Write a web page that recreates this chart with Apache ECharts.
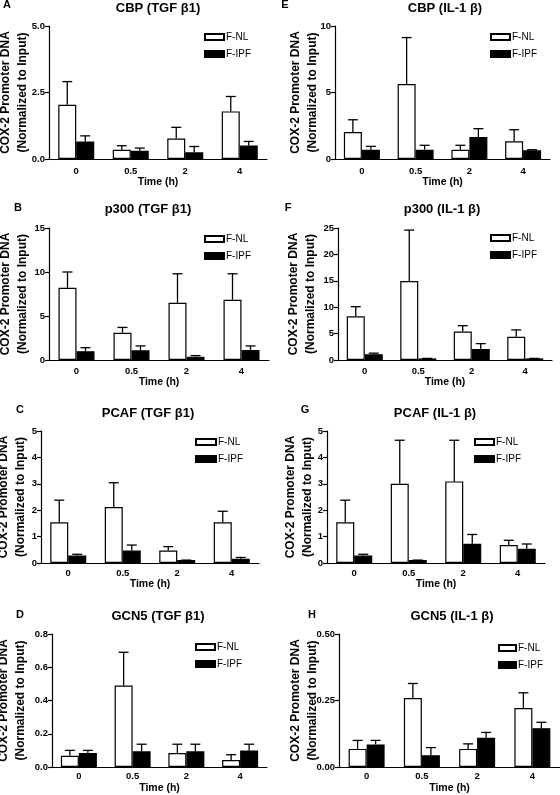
<!DOCTYPE html>
<html><head><meta charset="utf-8">
<script src="https://cdn.jsdelivr.net/npm/echarts@6/dist/echarts.min.js"></script>
<style>html,body{margin:0;padding:0;background:#fff}#c{width:560px;height:795px}</style>
</head><body><div id="c"></div>
<script>
const categories = ['0', '0.5', '2', '4'];
const seriesNames = ['F-NL', 'F-IPF'];
const yTitle = 'COX-2 Promoter DNA\n(Normalized to Input)';
const xTitle = 'Time (h)';

// A: CBP (TGFβ1)
const aNL = [2.04, 0.35, 0.77, 1.79];
const aNLTop = [2.91, 0.50, 1.19, 2.35];
const aIPF = [0.66, 0.31, 0.25, 0.51];
const aIPFTop = [0.87, 0.41, 0.47, 0.66];
const aTicks = [0, 5, 2.5];
// B: p300 (TGFβ1)
const bNL = [8.2, 3.1, 6.5, 6.85];
const bNLTop = [10.0, 3.7, 9.8, 9.8];
const bIPF = [1.0, 1.1, 0.38, 1.13];
const bIPFTop = [1.4, 1.6, 0.5, 1.6];
const bTicks = [0, 15, 5];
// C: PCAF (TGFβ1)
const cNL = [1.54, 2.12, 0.47, 1.54];
const cNLTop = [2.38, 3.04, 0.62, 1.96];
const cIPF = [0.28, 0.47, 0.11, 0.16];
const cIPFTop = [0.33, 0.68, 0.11, 0.21];
const cTicks = [0, 5, 1];
// D: GCN5 (TGFβ1)
const dNL = [0.068, 0.49, 0.084, 0.042];
const dNLTop = [0.10, 0.69, 0.137, 0.074];
const dIPF = [0.084, 0.094, 0.094, 0.10];
const dIPFTop = [0.10, 0.137, 0.137, 0.137];
const dTicks = [0, 0.8, 0.2];
// E: CBP (IL-1β)
const eNL = [2.03, 5.63, 0.70, 1.33];
const eNLTop = [2.95, 9.13, 1.03, 2.2];
const eIPF = [0.70, 0.70, 1.65, 0.65];
const eIPFTop = [0.95, 1.03, 2.28, 0.70];
const eTicks = [0, 10, 5];
// F: p300 (IL-1β)
const fNL = [8.27, 14.96, 5.4, 4.4];
const fNLTop = [10.1, 24.6, 6.5, 5.7];
const fIPF = [1.1, 0.3, 2.1, 0.3];
const fIPFTop = [1.3, 0.3, 3.1, 0.3];
const fTicks = [0, 25, 5];
// G: PCAF (IL-1β)
const gNL = [1.54, 3.0, 3.09, 0.68];
const gNLTop = [2.38, 4.65, 4.65, 0.86];
const gIPF = [0.28, 0.11, 0.73, 0.54];
const gIPFTop = [0.33, 0.11, 1.08, 0.72];
const gTicks = [0, 5, 1];
// H: GCN5 (IL-1β)
const hNL = [0.068, 0.259, 0.068, 0.222];
const hNLTop = [0.10, 0.314, 0.087, 0.279];
const hIPF = [0.085, 0.044, 0.11, 0.146];
const hIPFTop = [0.10, 0.073, 0.13, 0.168];
const hTicks = [0, 0.5, 0.25];

const panelTitles = ['CBP (TGF β1)', 'p300 (TGF β1)', 'PCAF (TGF β1)', 'GCN5 (TGF β1)',
                     'CBP (IL-1 β)', 'p300 (IL-1 β)', 'PCAF (IL-1 β)', 'GCN5 (IL-1 β)'];
const panelLetters = ['A', 'B', 'C', 'D', 'E', 'F', 'G', 'H'];

const panelData = [
  [aNL, aNLTop, aIPF, aIPFTop, aTicks, 1],
  [bNL, bNLTop, bIPF, bIPFTop, bTicks, 0],
  [cNL, cNLTop, cIPF, cIPFTop, cTicks, 0],
  [dNL, dNLTop, dIPF, dIPFTop, dTicks, 1],
  [eNL, eNLTop, eIPF, eIPFTop, eTicks, 0],
  [fNL, fNLTop, fIPF, fIPFTop, fTicks, 0],
  [gNL, gNLTop, gIPF, gIPFTop, gTicks, 0],
  [hNL, hNLTop, hIPF, hIPFTop, hTicks, 2]
];

// layout: [axisLeft, axisRight, axisTop, axisBottom, nameGap, titleX, titleY, letterX, letterY, legendX, legendY, legendW, labelMargin, xNameGap]
const layout = [
  [49, 267, 26, 159, 18, 158, 8, 7, 5, 199, 26, 19, 7, 18],
  [49, 269, 228, 360, 18, 148, 209, 18, 208, 199, 228, 19, 6, 17],
  [41, 259, 431, 563, 12, 148, 413, 20, 410, 190, 431, 20, 5, 16],
  [52, 267, 634, 767, 23, 158, 616, 20, 615, 190, 636, 19, 4, 16],
  [335, 550, 26, 159, 14, 445, 8, 285, 5, 485, 26, 19, 7, 18],
  [338, 552, 228, 360, 19, 442, 209, 288, 208, 485, 227, 19, 6, 17],
  [327, 545, 431, 563, 11, 435, 413, 305, 410, 469, 431, 19, 5, 16],
  [339, 560, 634, 767, 18, 452, 616, 312, 615, 493, 637, 17, 4, 16]
];

const FONT = '"Liberation Sans", Arial, sans-serif';
const BAR_W = 18;

function errSeries(idx, means, tops, offset) {
  return {
    type: 'custom', xAxisIndex: idx, yAxisIndex: idx, z: 5, silent: true,
    data: means.map((m, i) => [i, m, tops[i]]),
    encode: { x: 0, y: [1, 2] },
    renderItem(params, api) {
      const p0 = api.coord([api.value(0), api.value(1)]);
      const p1 = api.coord([api.value(0), api.value(2)]);
      const x = p0[0] + offset;
      return {
        type: 'group', children: [
          { type: 'line', shape: { x1: x, y1: p0[1], x2: x, y2: p1[1] }, style: { stroke: '#000', lineWidth: 1.3 } },
          { type: 'line', shape: { x1: x - 5, y1: p1[1], x2: x + 5, y2: p1[1] }, style: { stroke: '#000', lineWidth: 1.3 } }
        ]
      };
    }
  };
}

const grid = [], xAxis = [], yAxis = [], series = [], legend = [], graphic = [];
panelData.forEach((pd, i) => {
  const [nl, nlTop, ipf, ipfTop, ticks, dec] = pd;
  const L = layout[i];
  grid.push({ left: L[0], right: 560 - L[1], top: L[2], bottom: 795 - L[3], containLabel: false, outerBoundsMode: 'none' });
  xAxis.push({
    type: 'category', gridIndex: i, data: categories,
    axisLine: { lineStyle: { color: '#000', width: 1.2 } },
    axisTick: { show: false },
    axisLabel: { color: '#000', fontFamily: FONT, fontWeight: 'bold', fontSize: 9.5, margin: L[12] },
    name: xTitle, nameLocation: 'middle', nameGap: L[13], nameMoveOverlap: false,
    nameTextStyle: { color: '#000', fontFamily: FONT, fontWeight: 'bold', fontSize: 10.5 }
  });
  yAxis.push({
    type: 'value', gridIndex: i, min: ticks[0], max: ticks[1], interval: ticks[2],
    axisLine: { show: true, lineStyle: { color: '#000', width: 1.2 } },
    axisTick: { show: true, length: 4, lineStyle: { color: '#000', width: 1.2 } },
    splitLine: { show: false },
    axisLabel: { color: '#000', fontFamily: FONT, fontWeight: 'bold', fontSize: 9.5, margin: 4,
      formatter: v => v.toFixed(dec) },
    name: yTitle, nameLocation: 'middle', nameRotate: 90, nameGap: L[4], nameMoveOverlap: false,
    nameTextStyle: { color: '#000', fontFamily: FONT, fontWeight: 'bold', fontSize: 12, lineHeight: 17 }
  });
  series.push({
    name: seriesNames[0], type: 'bar', xAxisIndex: i, yAxisIndex: i, data: nl,
    barWidth: BAR_W, barGap: '0%', silent: true,
    itemStyle: { color: '#fff', borderColor: '#000', borderWidth: 1.2 }
  });
  series.push({
    name: seriesNames[1], type: 'bar', xAxisIndex: i, yAxisIndex: i, data: ipf,
    barWidth: BAR_W, barGap: '0%', silent: true,
    itemStyle: { color: '#000', borderColor: '#000', borderWidth: 1.2 }
  });
  series.push(errSeries(i, nl, nlTop, -BAR_W / 2));
  series.push(errSeries(i, ipf, ipfTop, BAR_W / 2));
  legend.push({
    left: L[9], top: L[10], orient: 'vertical', itemWidth: L[11], itemHeight: 6, itemGap: 5,
    selectedMode: false, icon: 'rect', data: seriesNames,
    textStyle: { color: '#000', fontFamily: FONT, fontSize: 10, lineHeight: 12, padding: [0, 0, 0, -3] }
  });
  graphic.push({
    type: 'text', x: L[5], y: L[6],
    style: { text: panelTitles[i], fill: '#000', font: 'bold 13px ' + FONT, textAlign: 'center', textVerticalAlign: 'middle' }
  });
  graphic.push({
    type: 'text', x: L[7], y: L[8],
    style: { text: panelLetters[i], fill: '#000', font: 'bold 11px ' + FONT, textAlign: 'center', textVerticalAlign: 'middle' }
  });
});

const chart = echarts.init(document.getElementById('c'), null, { renderer: 'canvas' });
chart.setOption({
  animation: false, backgroundColor: '#fff',
  grid, xAxis, yAxis, series, legend, graphic
});
</script>
</body></html>
